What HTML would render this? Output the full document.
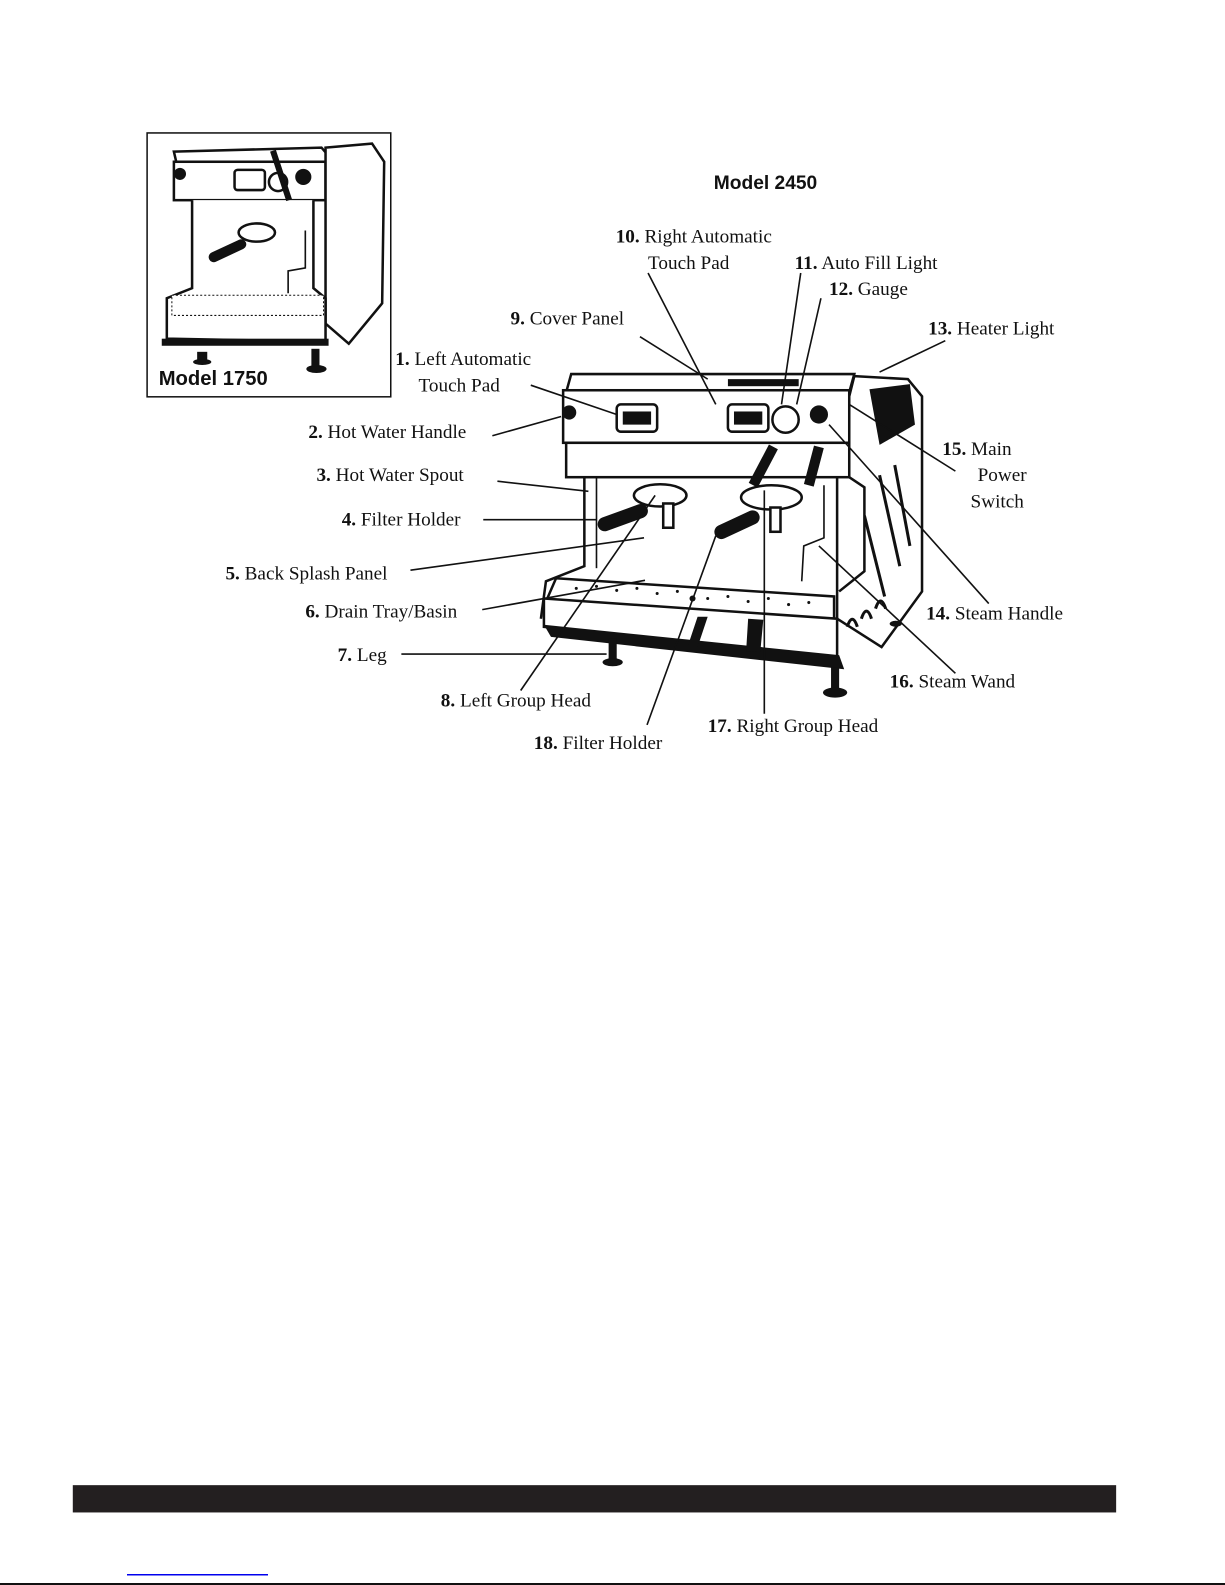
<!DOCTYPE html>
<html><head><meta charset="utf-8"><style>
html,body{margin:0;padding:0;background:#fff;}
svg{display:block}
.t{font-family:"Liberation Serif",serif;font-size:19px;fill:#111}
.b{font-weight:bold}
.a{font-family:"Liberation Sans",sans-serif;font-weight:bold;fill:#111}
.l{stroke:#111;stroke-width:1.6;fill:none}
.m{stroke:#111;stroke-width:2.5;fill:#fff}
</style></head><body>
<svg width="1225" height="1585" viewBox="0 0 1225 1585" xmlns="http://www.w3.org/2000/svg">
<rect width="1225" height="1585" fill="#fff"/>
<g transform="scale(1.011)">

<rect x="145.5" y="131.5" width="241" height="261" fill="#fff" stroke="#111" stroke-width="1.5"/>
<g>
  <polygon class="m" points="172,150 318,146 330,160 175,163"/>
  <rect class="m" x="172" y="160" width="150" height="38"/>
  <rect x="232" y="168" width="30" height="20" rx="3" class="m"/>
  <circle cx="275" cy="180" r="9" class="m"/>
  <circle cx="300" cy="175" r="8" fill="#111"/>
  <circle cx="178" cy="172" r="6" fill="#111"/>
  <polygon class="m" points="322,146 368,142 380,160 378,300 345,340 322,320"/>
  <path d="M190 198 L190 285 L165 295 L165 335 L322 338 L322 295 L310 285 L310 198" class="m"/>
  <ellipse cx="254" cy="230" rx="18" ry="9" class="m"/>
  <rect x="205" y="243" width="40" height="10" rx="5" fill="#111" transform="rotate(-25 225 248)"/>
  <path d="M302 228 L302 265 L285 268 L285 290" class="l" stroke-width="3"/>
  <rect x="170" y="292" width="150" height="20" fill="#fff" stroke="#111" stroke-dasharray="2 2"/>
  <rect x="160" y="335" width="165" height="7" fill="#111"/>
  <line x1="270" y1="149" x2="286" y2="198" stroke="#111" stroke-width="6"/>
  <rect x="195" y="348" width="10" height="10" fill="#111"/>
  <ellipse cx="200" cy="358" rx="9" ry="3" fill="#111"/>
  <ellipse cx="313" cy="365" rx="10" ry="4" fill="#111"/>
  <rect x="308" y="345" width="8" height="18" fill="#111"/>
</g>
<text x="157" y="381" class="a" font-size="20">Model 1750</text>
<text x="706" y="187" class="a" font-size="19">Model 2450</text>

<g>
  <polygon class="m" points="845,372 898,375 912,392 912,585 872,640 828,612 828,440"/>
  <polygon fill="#111" points="860,385 900,380 905,420 870,440"/>
  <g stroke="#111" stroke-width="3" fill="none">
    <line x1="870" y1="470" x2="890" y2="560"/><line x1="885" y1="460" x2="900" y2="540"/>
    <line x1="855" y1="510" x2="875" y2="590"/>
    <path d="M838 620 q5 -15 10 0 M852 612 q5 -15 10 0 M866 602 q5 -15 10 0"/>
  </g>
  <polygon class="m" points="565,370 845,370 840,388 560,388"/>
  <rect class="m" x="557" y="386" width="283" height="52"/>
  <rect x="610" y="400" width="40" height="27" rx="4" class="m"/>
  <rect x="616" y="407" width="28" height="13" fill="#111"/>
  <rect x="720" y="400" width="40" height="27" rx="4" class="m"/>
  <rect x="726" y="407" width="28" height="13" fill="#111"/>
  <circle cx="777" cy="415" r="13" class="m"/>
  <circle cx="810" cy="410" r="9" fill="#111"/>
  <circle cx="563" cy="408" r="7" fill="#111"/>
  <rect x="720" y="375" width="70" height="7" fill="#111"/>
  <rect class="m" x="560" y="438" width="280" height="34"/>
  <path d="M578 472 L578 560 L540 575 L535 612" class="m"/>
  <path d="M590 472 L590 562" class="l" stroke-width="2.5"/>
  <path d="M840 472 L855 482 L855 565 L830 585" class="m"/>
  <line x1="765" y1="442" x2="745" y2="480" stroke="#111" stroke-width="10"/>
  <line x1="810" y1="442" x2="800" y2="480" stroke="#111" stroke-width="10"/>
  <ellipse cx="653" cy="490" rx="26" ry="11" class="m"/>
  <ellipse cx="763" cy="492" rx="30" ry="12" class="m"/>
  <rect x="590" y="505" width="52" height="14" rx="7" fill="#111" transform="rotate(-20 616 512)"/>
  <rect x="705" y="512" width="48" height="14" rx="7" fill="#111" transform="rotate(-25 729 519)"/>
  <rect x="656" y="498" width="10" height="24" class="m"/>
  <rect x="762" y="502" width="10" height="24" class="m"/>
  <path d="M815 480 L815 532 L795 540 L793 575" class="l" stroke-width="4"/>
  <polygon class="m" points="550,572 825,590 825,612 540,595"/>
  <g fill="#111"><circle cx="570" cy="582" r="1.5"/><circle cx="590" cy="580" r="1.5"/><circle cx="610" cy="584" r="1.5"/><circle cx="630" cy="582" r="1.5"/><circle cx="650" cy="587" r="1.5"/><circle cx="670" cy="585" r="1.5"/><circle cx="700" cy="592" r="1.5"/><circle cx="720" cy="590" r="1.5"/><circle cx="740" cy="595" r="1.5"/><circle cx="760" cy="592" r="1.5"/><circle cx="780" cy="598" r="1.5"/><circle cx="800" cy="596" r="1.5"/><circle cx="685" cy="592" r="3"/></g>
  <polygon class="m" points="538,592 828,612 828,650 538,620"/>
  <polygon fill="#111" points="538,618 830,648 835,662 545,630"/>
  <polygon fill="#111" points="690,610 700,610 690,640 680,640"/>
  <polygon fill="#111" points="740,612 755,613 752,645 738,644"/>
  <rect x="602" y="632" width="8" height="20" fill="#111"/>
  <ellipse cx="606" cy="655" rx="10" ry="4" fill="#111"/>
  <rect x="822" y="660" width="8" height="22" fill="#111"/>
  <ellipse cx="826" cy="685" rx="12" ry="5" fill="#111"/>
  <ellipse cx="886" cy="617" rx="6" ry="3" fill="#111"/>
</g>

<g class="l">
  <line x1="641" y1="270" x2="708" y2="400"/>
  <line x1="792" y1="270" x2="773" y2="400"/>
  <line x1="812" y1="295" x2="788" y2="400"/>
  <line x1="633" y1="333" x2="700" y2="375"/>
  <line x1="935" y1="337" x2="870" y2="368"/>
  <line x1="525" y1="381" x2="610" y2="410"/>
  <line x1="487" y1="431" x2="555" y2="412"/>
  <line x1="945" y1="466" x2="840" y2="400"/>
  <line x1="978" y1="597" x2="820" y2="420"/>
  <line x1="492" y1="476" x2="582" y2="486"/>
  <line x1="478" y1="514" x2="590" y2="514"/>
  <line x1="406" y1="564" x2="637" y2="532"/>
  <line x1="477" y1="603" x2="638" y2="574"/>
  <line x1="397" y1="647" x2="600" y2="647"/>
  <line x1="515" y1="683" x2="648" y2="490"/>
  <line x1="945" y1="666" x2="810" y2="540"/>
  <line x1="756" y1="706" x2="756" y2="485"/>
  <line x1="640" y1="717" x2="708" y2="530"/>
</g>

<text class="t" x="609" y="240"><tspan class="b">10.</tspan> Right Automatic</text>
<text class="t" x="641" y="266">Touch Pad</text>
<text class="t" x="786" y="266"><tspan class="b">11.</tspan> Auto Fill Light</text>
<text class="t" x="820" y="292"><tspan class="b">12.</tspan> Gauge</text>
<text class="t" x="505" y="321"><tspan class="b">9.</tspan> Cover Panel</text>
<text class="t" x="918" y="331"><tspan class="b">13.</tspan> Heater Light</text>
<text class="t" x="391" y="361"><tspan class="b">1.</tspan> Left Automatic</text>
<text class="t" x="414" y="387">Touch Pad</text>
<text class="t" x="305" y="433"><tspan class="b">2.</tspan> Hot Water Handle</text>
<text class="t" x="932" y="450"><tspan class="b">15.</tspan> Main</text>
<text class="t" x="967" y="476">Power</text>
<text class="t" x="960" y="502">Switch</text>
<text class="t" x="313" y="476"><tspan class="b">3.</tspan> Hot Water Spout</text>
<text class="t" x="338" y="520"><tspan class="b">4.</tspan> Filter Holder</text>
<text class="t" x="223" y="573"><tspan class="b">5.</tspan> Back Splash Panel</text>
<text class="t" x="302" y="611"><tspan class="b">6.</tspan> Drain Tray/Basin</text>
<text class="t" x="916" y="613"><tspan class="b">14.</tspan> Steam Handle</text>
<text class="t" x="334" y="654"><tspan class="b">7.</tspan> Leg</text>
<text class="t" x="880" y="680"><tspan class="b">16.</tspan> Steam Wand</text>
<text class="t" x="436" y="699"><tspan class="b">8.</tspan> Left Group Head</text>
<text class="t" x="700" y="724"><tspan class="b">17.</tspan> Right Group Head</text>
<text class="t" x="528" y="741"><tspan class="b">18.</tspan> Filter Holder</text>

<rect x="72" y="1469" width="1032" height="27" fill="#231f20"/>
</g>
<rect x="127" y="1574" width="141" height="1.5" fill="#0000ee"/>
<rect x="0" y="1583" width="1225" height="2" fill="#111"/>
</svg>
</body></html>
